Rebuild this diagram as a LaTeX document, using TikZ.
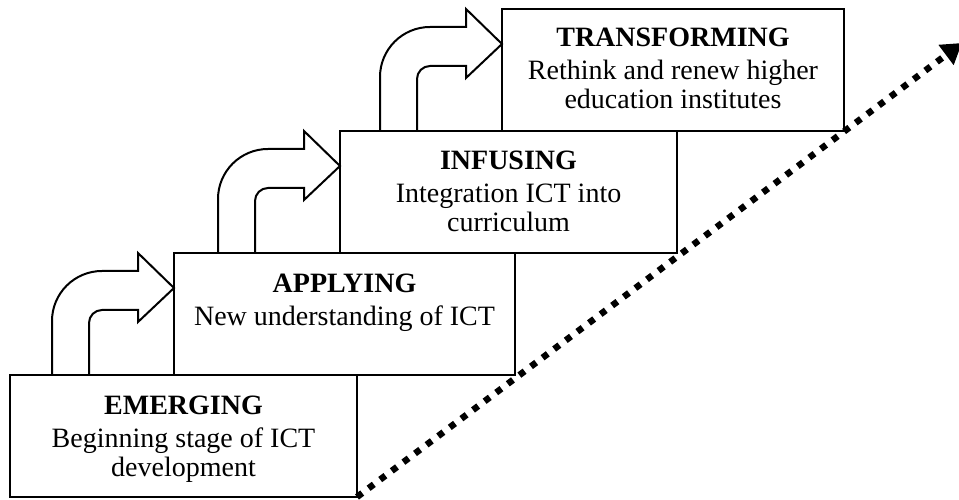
\documentclass[tikz,border=0pt]{standalone}
\usepackage{fontspec}
\setmainfont{Liberation Serif}
\usetikzlibrary{positioning,arrows.meta}

\begin{document}
\begin{tikzpicture}
[   x=1pt,y=1pt,
    stage/.style={draw=black,line width=2.4pt,fill=white,minimum height=122pt,minimum width=#1,anchor=south west,inner sep=0pt,outer sep=0pt},
    stagetext/.style={align=center,inner sep=0pt,font=\fontsize{28}{29.5}\selectfont},
    bent/.style={draw=black,line width=2pt,line join=miter},
    trend/.style={line width=6.5pt,dash pattern=on 6.5pt off 8pt,-{Triangle[length=20pt,width=24pt]}},
]
    \useasboundingbox (0,0) rectangle (959,500);
    \node[stage=347pt] (emerging) at (10,3) {};
    \node[stage=341pt] (applying) at (174,125) {};
    \node[stage=337pt] (infusing) at (340,247) {};
    \node[stage=342pt] (transforming) at (502,369) {};
    \foreach \s in {applying,infusing,transforming}
    {   \begin{scope}[shift={(\s.north west)}]
            \draw[bent] (-122,-122) [rounded corners=50pt] -- (-122,-18) [sharp corners] -- (-36,-18) -- (-36,0) -- (0,-35)
                -- (-36,-69) -- (-36,-57) [rounded corners=13pt] -- (-85,-57) [sharp corners] -- (-85,-122);
        \end{scope}
    }
    \node[stagetext,below=21pt of emerging.north] (emerging-text) {\textbf{EMERGING}\\[3pt]Beginning stage of ICT\\development};
    \node[stagetext,below=21pt of applying.north] (applying-text) {\textbf{APPLYING}\\[3pt]New understanding of ICT};
    \node[stagetext,below=20pt of infusing.north] (infusing-text) {\textbf{INFUSING}\\[3pt]Integration ICT into\\curriculum};
    \node[stagetext,below=19pt of transforming.north] (transforming-text) {\textbf{TRANSFORMING}\\[3pt]Rethink and renew higher\\education institutes};
    \coordinate (trend-end) at (962,457);
    \draw[trend] (emerging.south east) -- (trend-end);
\end{tikzpicture}
\end{document}
